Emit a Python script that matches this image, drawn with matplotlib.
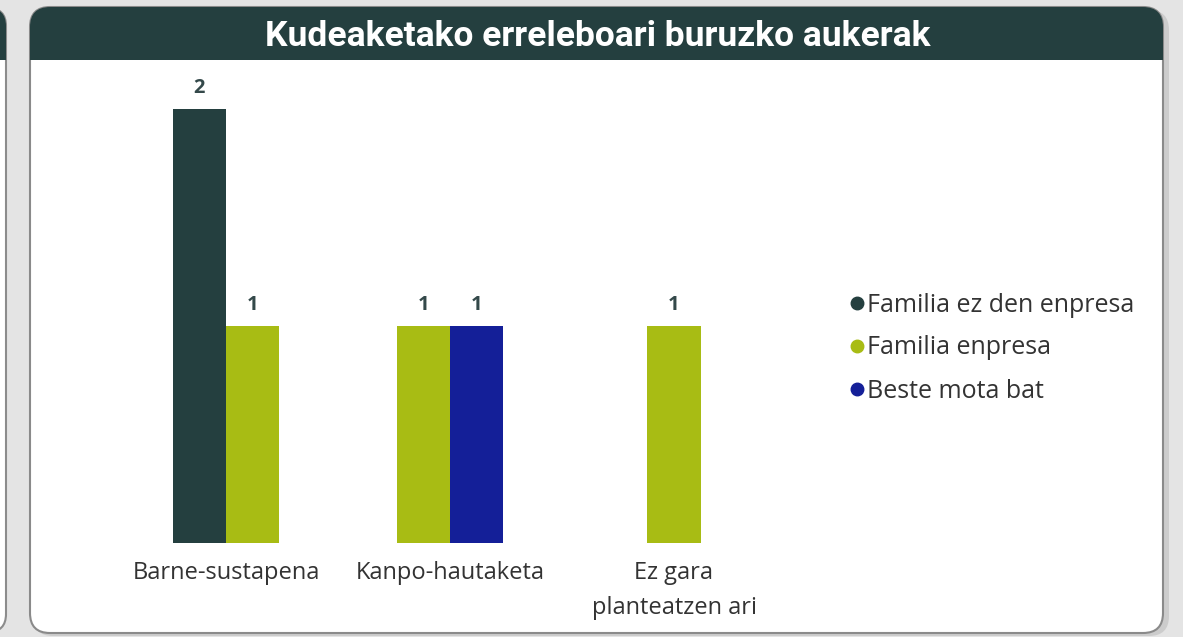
import matplotlib.pyplot as plt
from matplotlib.patches import FancyBboxPatch, Rectangle
from matplotlib.lines import Line2D

# data
title = "Kudeaketako erreleboari buruzko aukerak"
categories = ["Barne-sustapena", "Kanpo-hautaketa", "Ez gara\nplanteatzen ari"]
series = ["Familia ez den enpresa", "Familia enpresa", "Beste mota bat"]
familia_ez = [2, None, None]
familia = [1, 1, 1]
beste = [None, 1, None]
colors = ["#243f3f", "#a8bc14", "#141f98"]

W, H = 1183, 637
fig = plt.figure(figsize=(W / 100, H / 100), dpi=100)
fig.patch.set_facecolor("#e4e4e4")

# background layer in pixel units
bg = fig.add_axes([0, 0, 1, 1])
bg.set_xlim(0, W)
bg.set_ylim(H, 0)
bg.axis("off")

# partial card on the left
left = FancyBboxPatch((-60, 8), 66, 624, boxstyle="round,pad=0,rounding_size=18",
                      fc="white", ec="#8c8c8c", lw=1.5)
bg.add_patch(left)
lh = FancyBboxPatch((-60, 8), 66, 90, boxstyle="round,pad=0,rounding_size=18",
                    fc="#243f3f", ec="none")
bg.add_patch(lh)
lh.set_clip_path(Rectangle((-60, 8), 66, 52, transform=bg.transData))

# main card with shadow
shadow = FancyBboxPatch((33, 10), 1136, 626, boxstyle="round,pad=0,rounding_size=20",
                        fc="#bdbdbd", ec="none", alpha=0.6)
bg.add_patch(shadow)
card = FancyBboxPatch((30, 7), 1133, 626, boxstyle="round,pad=0,rounding_size=20",
                      fc="white", ec="#8a8a8a", lw=1.5)
bg.add_patch(card)
header = FancyBboxPatch((30, 7), 1133, 100, boxstyle="round,pad=0,rounding_size=20",
                        fc="#243f3f", ec="none")
bg.add_patch(header)
header.set_clip_path(Rectangle((29, 6), 1136, 54, transform=bg.transData))
bg.text(598, 36, title, color="white", fontsize=25.5, fontweight="bold",
        family="Roboto", ha="center", va="center")

# chart
ax = fig.add_axes([100 / W, (H - 543) / H, 700 / W, (543 - 80) / H])
ax.set_facecolor("none")
bar_w = 0.237
all_series = [familia_ez, familia, beste]
for i, cat in enumerate(categories):
    present = [(s, vals[i]) for s, vals in enumerate(all_series) if vals[i] is not None]
    n = len(present)
    for k, (s, v) in enumerate(present):
        x = i + (k - (n - 1) / 2) * bar_w
        ax.bar(x, v, width=bar_w, color=colors[s])
        ax.text(x, v + 0.05, str(v), ha="center", va="bottom", fontsize=14.5,
                fontweight="bold", color="#34494a", family="Open Sans")

ax.set_xlim(-0.5625, 2.5625)
ax.set_ylim(0, 2.134)
ax.set_xticks(range(len(categories)))
ax.set_xticklabels(categories, fontsize=17, family="Open Sans", color="#333333",
                   linespacing=1.6)
ax.tick_params(axis="x", length=0, pad=13)
ax.set_yticks([])
for sp in ax.spines.values():
    sp.set_visible(False)

handles = [Line2D([], [], marker="o", linestyle="none", markersize=9,
                  markerfacecolor=c, markeredgecolor=c) for c in colors]
leg = fig.legend(handles, series, loc="upper left", bbox_to_anchor=(826 / W, 1 - 270 / H),
                 frameon=False, handletextpad=0.05, handlelength=0.7,
                 labelspacing=0.72, prop={"family": "Open Sans", "size": 18})
for t in leg.get_texts():
    t.set_color("#333333")

fig.savefig("out.png", dpi=100, facecolor=fig.get_facecolor())
